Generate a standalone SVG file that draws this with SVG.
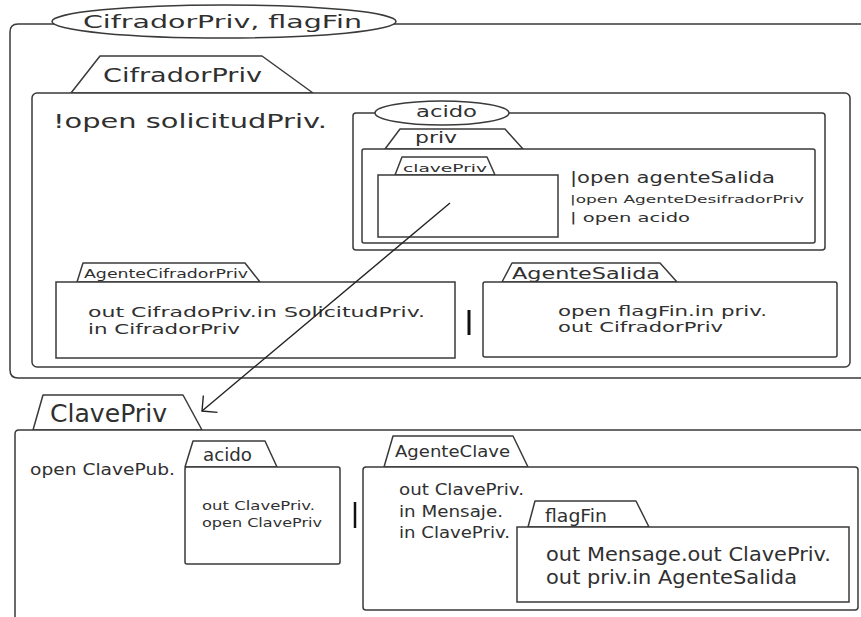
<svg xmlns="http://www.w3.org/2000/svg" width="861" height="617" viewBox="0 0 861 617">
  <style>
    .box { fill: #fff; stroke: #3a3a3a; stroke-width: 1.5; }
    .tab { fill: #fff; stroke: #3a3a3a; stroke-width: 1.5; stroke-linejoin: round; }
    .amb { fill: #fff; stroke: #3a3a3a; stroke-width: 1.5; }
    .line { fill: none; stroke: #3a3a3a; stroke-width: 1.5; }
    .bar { stroke: #111; stroke-width: 3; }
    text { font-family: "DejaVu Sans", "Liberation Sans", sans-serif; fill: #303030; }
    .conn { fill: none; stroke: #222; stroke-width: 1.4; }
  </style>
  <defs>
    <marker id="open-arrow" viewBox="-13 -13 15 26" markerWidth="15" markerHeight="26" refX="0" refY="0" orient="auto" markerUnits="userSpaceOnUse">
      <path d="M-11,-11 L0,0 L-11,11" fill="none" stroke="#222" stroke-width="1.4"/>
    </marker>
  </defs>

  <rect width="861" height="617" fill="#fff"/>

  <!-- outer ambient: CifradorPriv, flagFin -->
  <g id="amb-cifrador-flagfin">
    <path class="line" d="M 870 24 H 18 Q 10 24 10 32 V 370 Q 10 378 18 378 H 870"/>
    <ellipse class="amb" cx="224" cy="21.5" rx="172" ry="16.5"/>
    <text x="83" y="28" font-size="18" textLength="279" lengthAdjust="spacingAndGlyphs">CifradorPriv, flagFin</text>
  </g>

  <!-- CifradorPriv -->
  <g id="cifradorpriv">
    <polygon class="tab" points="71,93 100,56 262,56 313,93"/>
    <rect class="box" x="32" y="93" width="818" height="274" rx="5"/>
    <text x="103" y="82" font-size="20" textLength="159" lengthAdjust="spacingAndGlyphs">CifradorPriv</text>
    <text x="53" y="128" font-size="20" textLength="274" lengthAdjust="spacingAndGlyphs">!open solicitudPriv.</text>
  </g>

  <!-- acido ambient -->
  <g id="amb-acido">
    <rect class="box" x="353" y="113" width="472" height="137" rx="3"/>
    <ellipse class="amb" cx="442" cy="113" rx="67" ry="12"/>
    <text x="416" y="117" font-size="16" textLength="61" lengthAdjust="spacingAndGlyphs">acido</text>
  </g>

  <!-- priv -->
  <g id="priv">
    <polygon class="tab" points="385,149 400,129 505,129 523,149"/>
    <rect class="box" x="362" y="149" width="453" height="94" rx="2"/>
    <text x="415" y="143" font-size="16" textLength="42" lengthAdjust="spacingAndGlyphs">priv</text>
    <text x="570" y="183" font-size="15" textLength="205" lengthAdjust="spacingAndGlyphs">|open agenteSalida</text>
    <text x="570" y="203" font-size="11" textLength="234" lengthAdjust="spacingAndGlyphs">|open AgenteDesifradorPriv</text>
    <text x="570" y="222" font-size="13" textLength="120" lengthAdjust="spacingAndGlyphs">| open acido</text>
  </g>

  <!-- clavePriv -->
  <g id="clavepriv-inner">
    <polygon class="tab" points="395,175 402,157 487,157 495,175"/>
    <rect class="box" x="378" y="175" width="180" height="62"/>
    <text x="403" y="172" font-size="11" textLength="84" lengthAdjust="spacingAndGlyphs">clavePriv</text>
  </g>

  <!-- AgenteCifradorPriv -->
  <g id="agente-cifrador-priv">
    <polygon class="tab" points="77,282 83,263 245,263 260,282"/>
    <rect class="box" x="56" y="282" width="399" height="76"/>
    <text x="84" y="278" font-size="11.5" textLength="164" lengthAdjust="spacingAndGlyphs">AgenteCifradorPriv</text>
    <text x="88" y="317" font-size="13.5" textLength="337" lengthAdjust="spacingAndGlyphs">out CifradoPriv.in SolicitudPriv.</text>
    <text x="88" y="334" font-size="13.5" textLength="152" lengthAdjust="spacingAndGlyphs">in CifradorPriv</text>
  </g>

  <line id="par-top" class="bar" x1="469" y1="310" x2="469" y2="335"/>

  <!-- AgenteSalida -->
  <g id="agente-salida">
    <polygon class="tab" points="502,282 512,263 660,263 677,282"/>
    <rect class="box" x="483" y="282" width="354" height="75" rx="2"/>
    <text x="512" y="279" font-size="15" textLength="148" lengthAdjust="spacingAndGlyphs">AgenteSalida</text>
    <text x="558" y="316" font-size="13.5" textLength="209" lengthAdjust="spacingAndGlyphs">open flagFin.in priv.</text>
    <text x="558" y="332" font-size="13.5" textLength="165" lengthAdjust="spacingAndGlyphs">out CifradorPriv</text>
  </g>

  <!-- ClavePriv -->
  <g id="clavepriv">
    <polygon class="tab" points="33,430 43,395 183,395 202,430"/>
    <path class="box" d="M 870 430 H 19 Q 15 430 15 434 V 625"/>
    <text x="50" y="422" font-size="24" textLength="117" lengthAdjust="spacingAndGlyphs">ClavePriv</text>
    <text x="30" y="475" font-size="15" textLength="145" lengthAdjust="spacingAndGlyphs">open ClavePub.</text>
  </g>

  <!-- acido (inside ClavePriv) -->
  <g id="acido-clave">
    <polygon class="tab" points="185,467 193,441 265,441 277,467"/>
    <rect class="box" x="185" y="467" width="155" height="97" rx="2"/>
    <text x="203" y="461" font-size="17" textLength="49" lengthAdjust="spacingAndGlyphs">acido</text>
    <text x="202" y="510" font-size="13" textLength="113" lengthAdjust="spacingAndGlyphs">out ClavePriv.</text>
    <text x="202" y="527" font-size="13" textLength="120" lengthAdjust="spacingAndGlyphs">open ClavePriv</text>
  </g>

  <line id="par-bottom" class="bar" x1="355" y1="502" x2="355" y2="528" style="stroke-width:2.5"/>

  <!-- AgenteClave -->
  <g id="agente-clave">
    <polygon class="tab" points="384,467 393,436 513,436 528,467"/>
    <rect class="box" x="363" y="467" width="495" height="143" rx="3"/>
    <text x="395" y="457" font-size="16" textLength="115" lengthAdjust="spacingAndGlyphs">AgenteClave</text>
    <text x="399" y="495" font-size="16" textLength="125" lengthAdjust="spacingAndGlyphs">out ClavePriv.</text>
    <text x="399" y="517" font-size="16" textLength="104" lengthAdjust="spacingAndGlyphs">in Mensaje.</text>
    <text x="399" y="538" font-size="16" textLength="111" lengthAdjust="spacingAndGlyphs">in ClavePriv.</text>
  </g>

  <!-- flagFin -->
  <g id="flagfin">
    <polygon class="tab" points="528,527 535,501 636,501 649,527"/>
    <rect class="box" x="517" y="527" width="332" height="75"/>
    <text x="545" y="522" font-size="17" textLength="62" lengthAdjust="spacingAndGlyphs">flagFin</text>
    <text x="546" y="561" font-size="19" textLength="285" lengthAdjust="spacingAndGlyphs">out Mensage.out ClavePriv.</text>
    <text x="546" y="584" font-size="19" textLength="251" lengthAdjust="spacingAndGlyphs">out priv.in AgenteSalida</text>
  </g>

  <!-- connectors -->
  <g id="connectors">
    <line class="conn" x1="450" y1="203" x2="202" y2="411" marker-end="url(#open-arrow)"/>
  </g>
</svg>
